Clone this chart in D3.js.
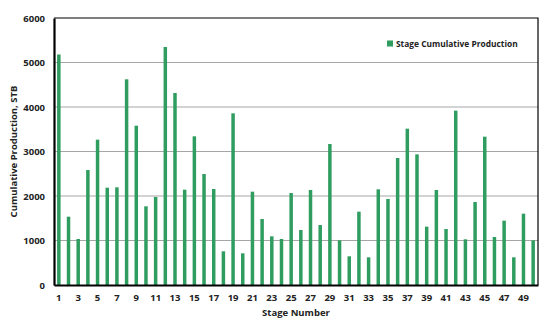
<!DOCTYPE html>
<html>
<head>
<meta charset="utf-8">
<script src="https://cdn.jsdelivr.net/npm/d3@7"></script>
<style>
  body { margin: 0; background: #fff; }
  text { font-family: "Open Sans", "Liberation Sans", sans-serif; fill: #222; }
</style>
</head>
<body>
<svg id="chart" width="550" height="323"></svg>
<script>
// stage numbers and cumulative production per stage (STB)
let stages = d3.range(1, 51);
let production = [
  5180, 1535, 1034, 2584, 3266, 2187, 2195, 4622, 3580, 1768,
  1978, 5348, 4315, 2142, 3341, 2494, 2157, 757, 3858, 712,
  2097, 1483, 1094, 1034, 2067, 1236, 2135, 1348, 3169, 1004,
  645, 1648, 622, 2150, 1933, 2854, 3513, 2936, 1311, 2135,
  1258, 3918, 1026, 1865, 3333, 1079, 1446, 622, 1603, 1004
];
let yTicks = [0, 1000, 2000, 3000, 4000, 5000, 6000];
let xTickLabels = stages.filter((d) => d % 2 === 1);
let seriesName = "Stage Cumulative Production";

let barColor = "#2f9c60";
let margin = {left: 54, right: 12, top: 18, bottom: 38};
let width = 550, height = 323;

let svg = d3.select("#chart");

let x = d3.scaleBand()
    .domain(stages)
    .range([margin.left, width - margin.right])
    .paddingInner(0.64)
    .paddingOuter(0.32);

let y = d3.scaleLinear()
    .domain([0, 6000])
    .range([height - margin.bottom, margin.top]);

//gridlines
svg.append("g")
    .selectAll("line")
    .data(yTicks.slice(1, -1))
    .enter().append("line")
    .attr("x1", margin.left)
    .attr("x2", width - margin.right)
    .attr("y1", (d) => y(d))
    .attr("y2", (d) => y(d))
    .attr("stroke", "#a6a6a6")
    .attr("stroke-width", 1);

//bars
svg.append("g")
    .selectAll("rect")
    .data(production)
    .enter().append("rect")
    .attr("x", (d, i) => x(stages[i]))
    .attr("width", x.bandwidth())
    .attr("y", (d) => y(d))
    .attr("height", (d) => y(0) - y(d))
    .attr("fill", barColor);

//frame: top and right
svg.append("path")
    .attr("d", "M" + margin.left + "," + y(6000) + "H" + (width - margin.right) + "V" + y(0))
    .attr("fill", "none")
    .attr("stroke", "#000")
    .attr("stroke-width", 1.2);

//y axis
let yAxis = svg.append("g")
    .attr("transform", "translate(" + margin.left + ",0)")
    .call(d3.axisLeft(y).tickValues(yTicks).tickFormat(d3.format("d")).tickSize(0).tickPadding(9));
yAxis.select(".domain").attr("stroke", "#000").attr("stroke-width", 2.2);
yAxis.selectAll("text")
    .attr("font-size", 9.5)
    .attr("font-weight", "bold")
    .attr("fill", "#222");

//x axis
let xAxis = svg.append("g")
    .attr("transform", "translate(0," + y(0) + ")")
    .call(d3.axisBottom(x).tickValues(xTickLabels).tickSize(0).tickPadding(9));
xAxis.select(".domain").attr("stroke", "#000").attr("stroke-width", 2.2);
xAxis.selectAll("text")
    .attr("font-size", 9.5)
    .attr("font-weight", "bold")
    .attr("fill", "#222");

//axis titles
svg.append("text")
    .attr("x", (margin.left + width - margin.right) / 2)
    .attr("y", 316)
    .attr("text-anchor", "middle")
    .attr("font-size", 9.5)
    .attr("font-weight", "bold")
    .text("Stage Number");

svg.append("text")
    .attr("transform", "translate(17," + (y(3000)) + ") rotate(-90)")
    .attr("text-anchor", "middle")
    .attr("font-size", 9.5)
    .attr("font-weight", "bold")
    .text("Cumulative  Production, STB");

//legend
let legend = svg.append("g").attr("transform", "translate(387,44)");
legend.append("rect")
    .attr("x", 0).attr("y", -3.5)
    .attr("width", 6).attr("height", 6)
    .attr("fill", barColor);
legend.append("text")
    .attr("x", 9)
    .attr("y", 3)
    .attr("font-size", 8.4)
    .attr("font-weight", "bold")
    .text(seriesName);
</script>
</body>
</html>
